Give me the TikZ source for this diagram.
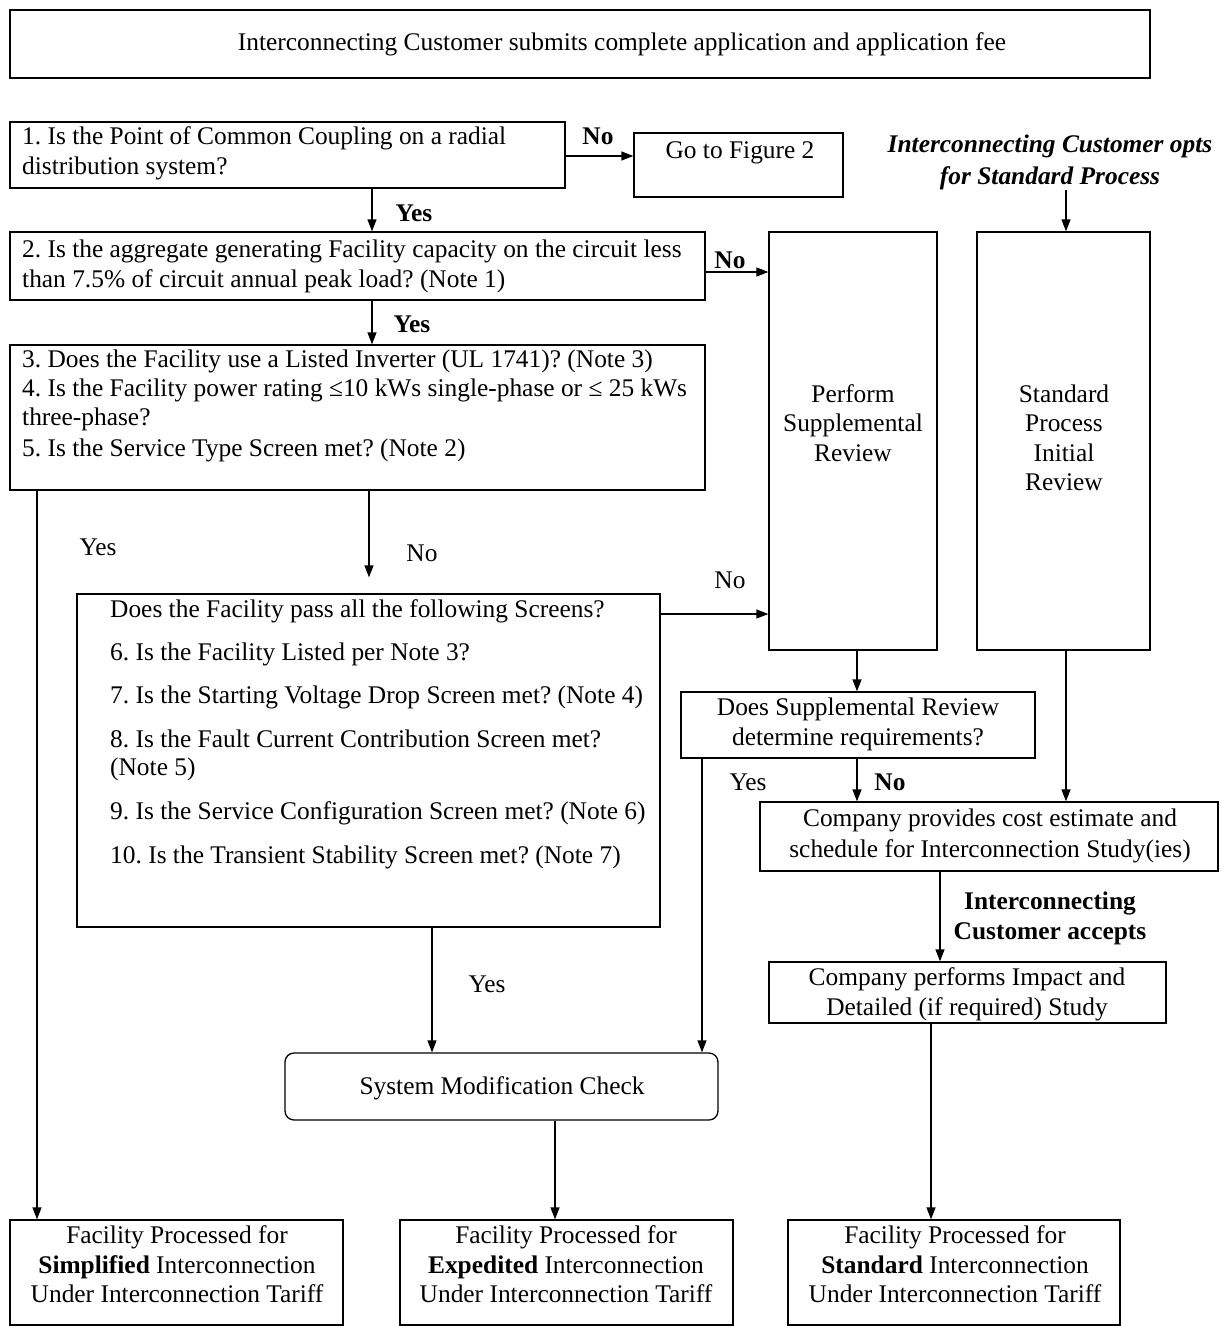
\documentclass[tikz,border=0pt]{standalone}
\usepackage{fontspec}
\setmainfont{Liberation Serif}
\usetikzlibrary{arrows.meta}
\begin{document}
\frenchspacing
\begin{tikzpicture}[x=1pt,y=-1pt,
  box/.style={draw,line width=1.3pt,inner sep=0pt,rectangle},
  rbox/.style={box,rounded corners=9pt},
  txt/.style={inner sep=0pt,font=\fontsize{25.4}{30}\selectfont},
  arr/.style={line width=1.3pt,-{Triangle[length=12pt,width=9pt]}}]
\useasboundingbox (0,0) rectangle (1222,1326);
\newcommand\tl[5]{\node[txt,anchor=#2] (#1) at (#3,#4+7) {#5};}
% boxes
\node[box,minimum width=1140,minimum height=68] (top) at (580,44) {};
\node[box,minimum width=555,minimum height=66] (q1) at (287.5,155) {};
\node[box,minimum width=209,minimum height=64] (fig2) at (738.5,165) {};
\node[box,minimum width=695,minimum height=68] (q2) at (357.5,266) {};
\node[box,minimum width=168,minimum height=418] (supp) at (853,441) {};
\node[box,minimum width=173,minimum height=418] (std) at (1063.5,441) {};
\node[box,minimum width=695,minimum height=145] (q3) at (357.5,417.5) {};
\node[box,minimum width=583,minimum height=333] (scr) at (368.5,760.5) {};
\node[box,minimum width=354,minimum height=66] (dsr) at (858,725) {};
\node[box,minimum width=458,minimum height=69] (cpe) at (989,836.5) {};
\node[box,minimum width=397,minimum height=61] (cpi) at (967.5,992.5) {};
\node[rbox,minimum width=433,minimum height=67] (smc) at (501.5,1086.5) {};
\node[box,minimum width=333,minimum height=105] (simp) at (176.5,1272.5) {};
\node[box,minimum width=333,minimum height=105] (exp) at (566.5,1272.5) {};
\node[box,minimum width=332,minimum height=105] (stdf) at (954,1272.5) {};
% texts
\tl{ttop}{base}{622}{43}{Interconnecting Customer submits complete application and application fee}
\tl{tq1a}{base west}{22}{137}{1. Is the Point of Common Coupling on a radial}
\tl{tq1b}{base west}{22}{167}{distribution system?}
\tl{tfig}{base}{740}{151}{Go to Figure 2}
\tl{tq2a}{base west}{22}{250}{2. Is the aggregate generating Facility capacity on the circuit less}
\tl{tq2b}{base west}{22}{280}{than 7.5\% of circuit annual peak load? (Note 1)}
\tl{tq3a}{base west}{22}{360}{3. Does the Facility use a Listed Inverter (UL 1741)? (Note 3)}
\tl{tq3b}{base west}{22}{389}{4. Is the Facility power rating ≤10 kWs single-phase or ≤ 25 kWs}
\tl{tq3c}{base west}{22}{418}{three-phase?}
\tl{tq3d}{base west}{22}{449}{5. Is the Service Type Screen met? (Note 2)}
\tl{tsa}{base}{853}{395}{Perform}
\tl{tsb}{base}{853}{424}{Supplemental}
\tl{tsc}{base}{853}{454}{Review}
\tl{tta}{base}{1064}{395}{Standard}
\tl{ttb}{base}{1064}{424}{Process}
\tl{ttc}{base}{1064}{454}{Initial}
\tl{ttd}{base}{1064}{483}{Review}
\tl{tsc0}{base west}{110}{610}{Does the Facility pass all the following Screens?}
\tl{tsc6}{base west}{110}{653}{6. Is the Facility Listed per Note 3?}
\tl{tsc7}{base west}{110}{696}{7. Is the Starting Voltage Drop Screen met? (Note 4)}
\tl{tsc8}{base west}{110}{740}{8. Is the Fault Current Contribution Screen met?}
\tl{tsc8b}{base west}{110}{768}{(Note 5)}
\tl{tsc9}{base west}{110}{812}{9. Is the Service Configuration Screen met? (Note 6)}
\tl{tsc10}{base west}{110}{856}{10. Is the Transient Stability Screen met? (Note 7)}
\tl{tda}{base}{858}{708}{Does Supplemental Review}
\tl{tdb}{base}{858}{738}{determine requirements?}
\tl{tca}{base}{990}{819}{Company provides cost estimate and}
\tl{tcb}{base}{990}{850}{schedule for Interconnection Study(ies)}
\tl{tpa}{base}{967}{978}{Company performs Impact and}
\tl{tpb}{base}{967}{1008}{Detailed (if required) Study}
\tl{tsmc}{base}{502}{1087}{System Modification Check}
\tl{tfa}{base}{177}{1236}{Facility Processed for}
\tl{tfb}{base}{177}{1266}{\textbf{Simplified} Interconnection}
\tl{tfc}{base}{177}{1295}{Under Interconnection Tariff}
\tl{tea}{base}{566}{1236}{Facility Processed for}
\tl{teb}{base}{566}{1266}{\textbf{Expedited} Interconnection}
\tl{tec}{base}{566}{1295}{Under Interconnection Tariff}
\tl{tga}{base}{955}{1236}{Facility Processed for}
\tl{tgb}{base}{955}{1266}{\textbf{Standard} Interconnection}
\tl{tgc}{base}{955}{1295}{Under Interconnection Tariff}
% labels
\tl{opta}{base}{1050}{145}{\bfseries\itshape Interconnecting Customer opts}
\tl{optb}{base}{1050}{177}{\bfseries\itshape for Standard Process}
\tl{acca}{base}{1050}{902}{\bfseries Interconnecting}
\tl{accb}{base}{1050}{932}{\bfseries Customer accepts}
\tl{l1}{base}{598}{137}{\bfseries No}
\tl{l2}{base}{414}{214}{\bfseries Yes}
\tl{l3}{base}{730}{261}{\bfseries No}
\tl{l4}{base}{412}{325}{\bfseries Yes}
\tl{l5}{base}{98}{548}{Yes}
\tl{l6}{base}{422}{554}{No}
\tl{l7}{base}{730}{581}{No}
\tl{l8}{base}{748}{783}{Yes}
\tl{l9}{base}{890}{783}{\bfseries No}
\tl{l10}{base}{487}{985}{Yes}
% connectors
\draw[arr] (q1.east |- 0,156) -- (fig2.west |- 0,156);
\draw[arr] (optb.south -| 1066,0) -- (std.north -| 1066,0);
\draw[arr] (q1.south -| 372,0) -- (q2.north -| 372,0);
\draw[arr] (q2.east |- 0,272) -- (supp.west |- 0,272);
\draw[arr] (q2.south -| 372,0) -- (q3.north -| 372,0);
\draw[arr,shorten >=16pt] (q3.south -| 369,0) -- (scr.north -| 369,0);
\draw[arr] (q3.south -| 37,0) -- (simp.north -| 37,0);
\draw[arr] (scr.east |- 0,614) -- (supp.west |- 0,614);
\draw[arr] (supp.south -| 857,0) -- (dsr.north -| 857,0);
\draw[arr] (dsr.south -| 857,0) -- (cpe.north -| 857,0);
\draw[arr] (dsr.south -| 702,0) -- (smc.north -| 702,0);
\draw[arr] (std.south -| 1066,0) -- (cpe.north -| 1066,0);
\draw[arr] (cpe.south -| 940,0) -- (cpi.north -| 940,0);
\draw[arr] (cpi.south -| 931,0) -- (stdf.north -| 931,0);
\draw[arr] (scr.south -| 432,0) -- (smc.north -| 432,0);
\draw[arr] (smc.south -| 555,0) -- (exp.north -| 555,0);
\end{tikzpicture}
\end{document}
